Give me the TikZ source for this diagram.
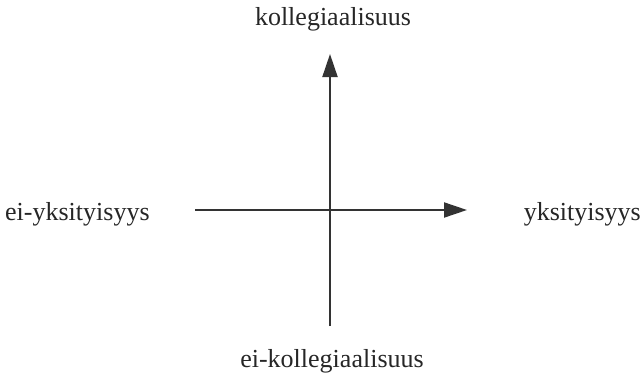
\documentclass[tikz,border=0pt]{standalone}
\usepackage{fontspec}
\setmainfont{Liberation Serif}
\usetikzlibrary{arrows.meta}
\begin{document}
\begin{tikzpicture}[x=1pt,y=-1pt,
  lbl/.style={inner sep=0pt,anchor=base,font=\fontsize{26}{30}\selectfont,text=black!85},
  axis/.style={line width=2pt,draw=black!80,-{Triangle[length=23pt,width=15pt]}}]
\useasboundingbox (0,0) rectangle (641,378);
\node[lbl] (top) at (333,25) {kollegiaalisuus};
\node[lbl] (bot) at (332,367) {ei-kollegiaalisuus};
\node[lbl,anchor=base west] (left) at (5,220) {ei-yksityisyys};
\node[lbl,anchor=base east] (right) at (641,220) {yksityisyys};
\coordinate (vs) at (330,326);
\coordinate (ve) at (330,54);
\coordinate (hs) at (195,210);
\coordinate (he) at (467,210);
\draw[axis] (vs) -- (ve);
\draw[axis] (hs) -- (he);
\end{tikzpicture}
\end{document}
